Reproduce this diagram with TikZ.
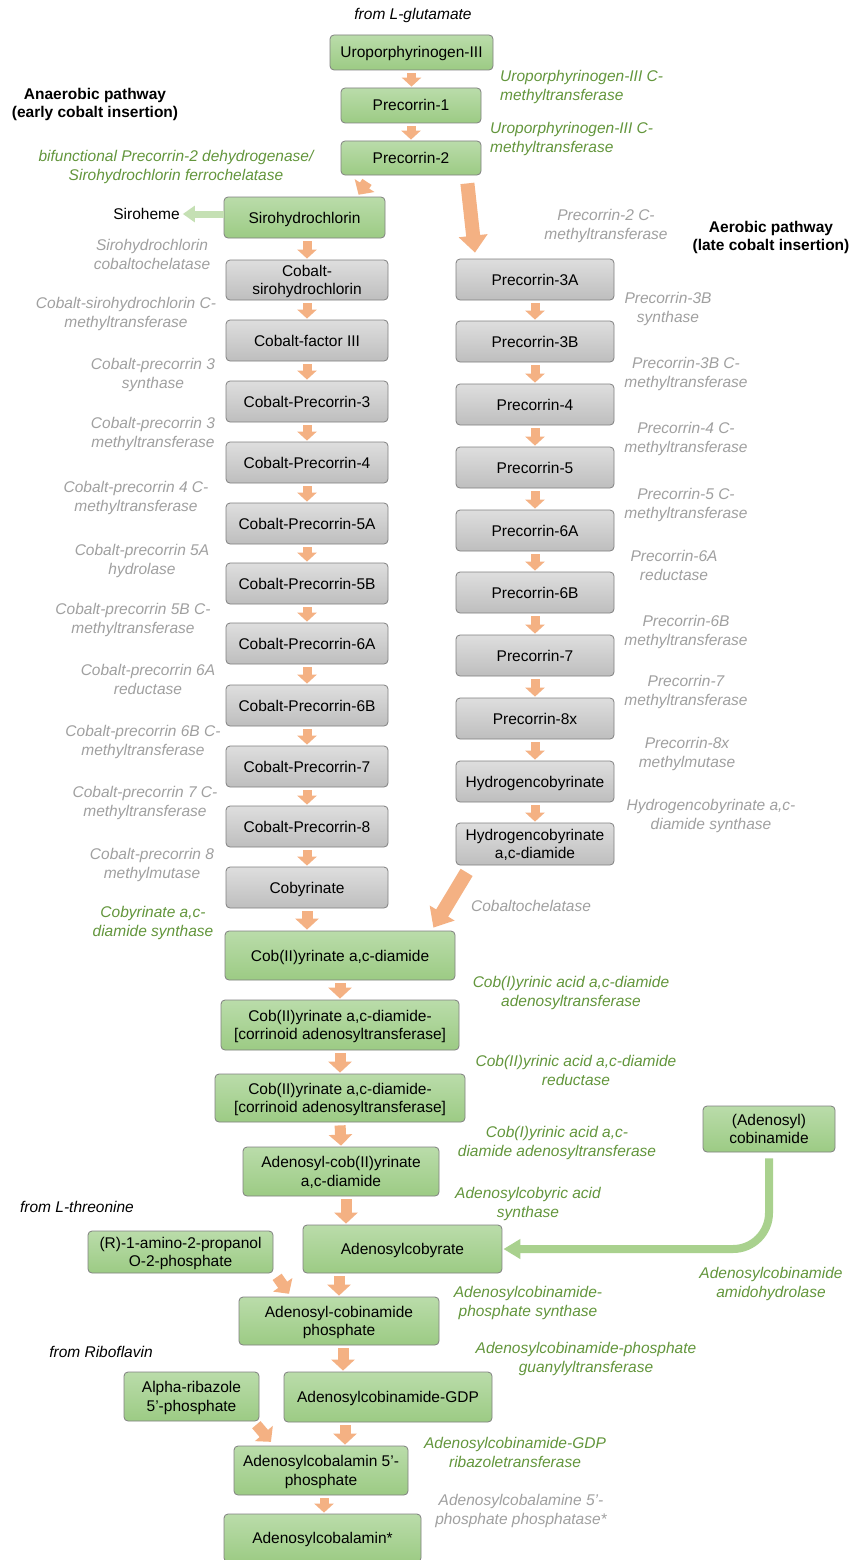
\documentclass[tikz,border=0pt]{standalone}
\usepackage{fontspec}
\setmainfont{Liberation Sans}
\usetikzlibrary{arrows.meta,calc}
\definecolor{gtxt}{RGB}{99,150,60}
\definecolor{xtxt}{RGB}{160,160,160}
\definecolor{ocol}{RGB}{244,177,131}
\definecolor{lgcol}{RGB}{169,209,142}
\definecolor{lgpale}{RGB}{197,224,180}
\definecolor{gtop}{RGB}{186,220,170}
\definecolor{gbot}{RGB}{156,203,132}
\definecolor{xtop}{RGB}{222,222,222}
\definecolor{xbot}{RGB}{190,190,190}
\definecolor{bord}{RGB}{128,128,128}
\begin{document}
\begin{tikzpicture}[x=1pt,y=-1pt,
  every node/.style={font=\fontsize{15.5}{18.5}\selectfont, inner sep=0pt, align=center, text height=15pt, text depth=4pt},
  two/.style={text height=33.5pt, text depth=4pt},
  gbox/.style={draw=bord, line width=0.8pt, rounded corners=4pt, top color=gtop, bottom color=gbot},
  xbox/.style={draw=bord, line width=0.8pt, rounded corners=4pt, top color=xtop, bottom color=xbot},
  glab/.style={text=gtxt, font=\fontsize{15.5}{19}\selectfont\itshape},
  xlab/.style={text=xtxt, font=\fontsize{15.5}{19}\selectfont\itshape},
  blab/.style={text=black, font=\fontsize{15.5}{19}\selectfont\itshape},
  hlab/.style={text=black, font=\fontsize{15.5}{18}\selectfont\bfseries},
  oarr/.style={ocol, line width=9pt, -{Triangle[width=19pt,length=9pt]}, shorten <=3pt, shorten >=1pt},
  oarrm/.style={ocol, line width=11pt, -{Triangle[width=23pt,length=11pt]}, shorten <=3pt, shorten >=1pt},
  obig/.style={ocol, line width=14pt, -{Triangle[width=28pt,length=17pt]}},
  lgarr/.style={lgpale, line width=7pt, -{Triangle[width=16pt,length=12pt]}},
]
\path[use as bounding box, fill=white] (0,0) rectangle (854,1560);

% ---------- top ----------
\node[blab] (fromglu) at (413,14) {from L-glutamate};
\node[gbox, minimum width=163pt, minimum height=35pt] (uro) at (411.5,52.5) {Uroporphyrinogen-III};
\node[gbox, minimum width=140pt, minimum height=35pt] (p1) at (411,105.5) {Precorrin-1};
\node[gbox, minimum width=140pt, minimum height=34pt] (p2) at (411,158) {Precorrin-2};
\node[glab, two, anchor=west, align=left] (e1) at (500,85.5) {Uroporphyrinogen-III C-\\methyltransferase};
\node[glab, two, anchor=west, align=left] (e2) at (490,137.5) {Uroporphyrinogen-III C-\\methyltransferase};
\node[hlab, two] (hana) at (95,103) {Anaerobic pathway\\(early cobalt insertion)};
\node[glab, two] (ebif) at (176,166) {bifunctional Precorrin-2 dehydrogenase/\\Sirohydrochlorin ferrochelatase};
\node[gbox, minimum width=161pt, minimum height=41pt] (siro) at (304.5,217.5) {Sirohydrochlorin};
\node (sirh) at (146.5,214) {Siroheme};

% ---------- anaerobic column ----------
\node[xbox, two, minimum width=162pt, minimum height=40pt] (cosiro) at (307,280) {Cobalt-\\sirohydrochlorin};
\node[xbox, minimum width=162pt, minimum height=41pt] (cof3) at (307,340.5) {Cobalt-factor III};
\node[xbox, minimum width=162pt, minimum height=41pt] (cop3) at (307,401.5) {Cobalt-Precorrin-3};
\node[xbox, minimum width=162pt, minimum height=41pt] (cop4) at (307,462.5) {Cobalt-Precorrin-4};
\node[xbox, minimum width=162pt, minimum height=41pt] (cop5a) at (307,523.5) {Cobalt-Precorrin-5A};
\node[xbox, minimum width=162pt, minimum height=41pt] (cop5b) at (307,583.5) {Cobalt-Precorrin-5B};
\node[xbox, minimum width=162pt, minimum height=41pt] (cop6a) at (307,643.5) {Cobalt-Precorrin-6A};
\node[xbox, minimum width=162pt, minimum height=41pt] (cop6b) at (307,705.5) {Cobalt-Precorrin-6B};
\node[xbox, minimum width=162pt, minimum height=41pt] (cop7) at (307,766.5) {Cobalt-Precorrin-7};
\node[xbox, minimum width=162pt, minimum height=41pt] (cop8) at (307,826.5) {Cobalt-Precorrin-8};
\node[xbox, minimum width=162pt, minimum height=41pt] (coby) at (307,887.5) {Cobyrinate};

\node[xlab, two] (l1) at (152,254.5) {Sirohydrochlorin\\cobaltochelatase};
\node[xlab, two] (l2) at (126,313) {Cobalt-sirohydrochlorin C-\\methyltransferase};
\node[xlab, two] (l3) at (153,373.5) {Cobalt-precorrin 3\\synthase};
\node[xlab, two] (l4) at (153,433) {Cobalt-precorrin 3\\methyltransferase};
\node[xlab, two] (l5) at (136,496.5) {Cobalt-precorrin 4 C-\\methyltransferase};
\node[xlab, two] (l6) at (142,559.5) {Cobalt-precorrin 5A\\hydrolase};
\node[xlab, two] (l7) at (133,618.5) {Cobalt-precorrin 5B C-\\methyltransferase};
\node[xlab, two] (l8) at (148,679.5) {Cobalt-precorrin 6A\\reductase};
\node[xlab, two] (l9) at (143,740.5) {Cobalt-precorrin 6B C-\\methyltransferase};
\node[xlab, two] (l10) at (145,801.5) {Cobalt-precorrin 7 C-\\methyltransferase};
\node[xlab, two] (l11) at (152,863.5) {Cobalt-precorrin 8\\methylmutase};
\node[glab, two] (l12) at (153,921.5) {Cobyrinate a,c-\\diamide synthase};

% ---------- aerobic column ----------
\node[hlab, two] (haer) at (771,236) {Aerobic pathway\\(late cobalt insertion)};
\node[xlab, two] (r0) at (606,224.5) {Precorrin-2 C-\\methyltransferase};
\node[xbox, minimum width=158pt, minimum height=41pt] (p3a) at (535,279.5) {Precorrin-3A};
\node[xbox, minimum width=158pt, minimum height=41pt] (p3b) at (535,341.5) {Precorrin-3B};
\node[xbox, minimum width=158pt, minimum height=41pt] (p4) at (535,404.5) {Precorrin-4};
\node[xbox, minimum width=158pt, minimum height=41pt] (p5) at (535,467.5) {Precorrin-5};
\node[xbox, minimum width=158pt, minimum height=41pt] (p6a) at (535,530.5) {Precorrin-6A};
\node[xbox, minimum width=158pt, minimum height=41pt] (p6b) at (535,592.5) {Precorrin-6B};
\node[xbox, minimum width=158pt, minimum height=41pt] (p7) at (535,655.5) {Precorrin-7};
\node[xbox, minimum width=158pt, minimum height=41pt] (p8x) at (535,718.5) {Precorrin-8x};
\node[xbox, minimum width=158pt, minimum height=41pt] (hcob) at (535,781.5) {Hydrogencobyrinate};
\node[xbox, two, minimum width=158pt, minimum height=42pt] (hcobd) at (535,844) {Hydrogencobyrinate\\a,c-diamide};

\node[xlab, two] (r1) at (668,308) {Precorrin-3B\\synthase};
\node[xlab, two] (r2) at (686,372.5) {Precorrin-3B C-\\methyltransferase};
\node[xlab, two] (r3) at (686,437.5) {Precorrin-4 C-\\methyltransferase};
\node[xlab, two] (r4) at (686,503.5) {Precorrin-5 C-\\methyltransferase};
\node[xlab, two] (r5) at (674,565.5) {Precorrin-6A\\reductase};
\node[xlab, two] (r6) at (686,630.5) {Precorrin-6B\\methyltransferase};
\node[xlab, two] (r7) at (686,690.5) {Precorrin-7\\methyltransferase};
\node[xlab, two] (r8) at (687,752.5) {Precorrin-8x\\methylmutase};
\node[xlab, two] (r9) at (711,814.5) {Hydrogencobyrinate a,c-\\diamide synthase};
\node[xlab] (r10) at (531,906) {Cobaltochelatase};

% ---------- lower part ----------
\node[gbox, minimum width=230pt, minimum height=49pt] (c2d) at (340,955.5) {Cob(II)yrinate a,c-diamide};
\node[gbox, two, minimum width=238pt, minimum height=50pt] (c2dc1) at (340,1025) {Cob(II)yrinate a,c-diamide-\\{[corrinoid adenosyltransferase]}};
\node[gbox, two, minimum width=250pt, minimum height=48pt] (c2dc2) at (340,1098) {Cob(II)yrinate a,c-diamide-\\{[corrinoid adenosyltransferase]}};
\node[gbox, two, minimum width=196pt, minimum height=49pt] (adocob) at (341,1171.5) {Adenosyl-cob(II)yrinate\\a,c-diamide};
\node[gbox, minimum width=199pt, minimum height=48pt] (adocby) at (402.5,1249) {Adenosylcobyrate};
\node[gbox, two, minimum width=185pt, minimum height=42pt] (amino) at (180.5,1252) {(R)-1-amino-2-propanol\\O-2-phosphate};
\node[gbox, two, minimum width=200pt, minimum height=48pt] (acp) at (339,1321) {Adenosyl-cobinamide\\phosphate};
\node[gbox, minimum width=208pt, minimum height=50pt] (gdp) at (388,1397) {Adenosylcobinamide-GDP};
\node[gbox, two, minimum width=135pt, minimum height=49pt] (riba) at (191.5,1396.5) {Alpha-ribazole\\5'-phosphate};
\node[gbox, two, minimum width=174pt, minimum height=49pt] (acb5p) at (321,1470.5) {Adenosylcobalamin 5'-\\phosphate};
\node[gbox, minimum width=197pt, minimum height=48pt] (acb) at (322.5,1538) {Adenosylcobalamin*};
\node[gbox, two, minimum width=132pt, minimum height=46pt] (adocbi) at (769,1129) {(Adenosyl)\\cobinamide};

\node[glab, two] (b1) at (571,991.5) {Cob(I)yrinic acid a,c-diamide\\adenosyltransferase};
\node[glab, two] (b2) at (576,1070.5) {Cob(II)yrinic acid a,c-diamide\\reductase};
\node[glab, two] (b3) at (557,1142) {Cob(I)yrinic acid a,c-\\diamide adenosyltransferase};
\node[glab, two] (b4) at (528,1203) {Adenosylcobyric acid\\synthase};
\node[glab, two] (b5) at (771,1283) {Adenosylcobinamide\\amidohydrolase};
\node[glab, two] (b6) at (528,1302) {Adenosylcobinamide-\\phosphate synthase};
\node[glab, two] (b7) at (586,1357.5) {Adenosylcobinamide-phosphate\\guanylyltransferase};
\node[glab, two] (b8) at (515,1452.5) {Adenosylcobinamide-GDP\\ribazoletransferase};
\node[xlab, two] (b9) at (521,1510) {Adenosylcobalamine 5'-\\phosphate phosphatase*};
\node[blab] (fthr) at (77,1207) {from L-threonine};
\node[blab] (frib) at (101,1352) {from Riboflavin};

% ---------- arrows ----------
\draw[oarr] (uro.south) -- (uro.south |- p1.north);
\draw[oarr] (p1.south) -- (p2.north);
\draw[oarrm] ([xshift=28pt,yshift=-4pt]p2.south west) -- ([xshift=53.5pt,yshift=1pt]siro.north);
\draw[obig] ([xshift=-14pt,yshift=-8pt]p2.south east) -- ([xshift=-60pt,yshift=6pt]p3a.north);
\draw[lgarr] (siro.west |- sirh.east) -- ([xshift=3pt]sirh.east);
\draw[oarr] (cosiro.north |- siro.south) -- (cosiro.north);
\foreach \a/\b in {cosiro/cof3,cof3/cop3,cop3/cop4,cop4/cop5a,cop5a/cop5b,cop5b/cop6a,cop6a/cop6b,cop6b/cop7,cop7/cop8,cop8/coby,
                   p3a/p3b,p3b/p4,p4/p5,p5/p6a,p6a/p6b,p6b/p7,p7/p8x,p8x/hcob,hcob/hcobd}
  \draw[oarr] (\a.south) -- (\b.north);
\draw[oarrm] (coby.south) -- (coby.south |- c2d.north);
\draw[obig] ([xshift=11pt,yshift=-7pt]hcobd.south west) -- ([xshift=-22pt,yshift=3pt]c2d.north east);
\draw[oarrm] (c2d.south) -- (c2dc1.north);
\draw[oarrm] (c2dc1.south) -- (c2dc2.north);
\draw[oarrm] (c2dc2.south) -- (adocob.north);
\draw[oarrm] ([xshift=5pt]adocob.south) -- ([xshift=5pt]adocob.south |- adocby.north);
\draw[oarrm] (acp.north |- adocby.south) -- (acp.north);
\draw[oarrm] ([xshift=2pt,yshift=-1pt]amino.south east) -- ([xshift=51pt,yshift=2pt]acp.north west);
\draw[oarrm] ([xshift=4pt]acp.south) -- ([xshift=4pt]acp.south |- gdp.north);
\draw[oarrm] ([xshift=24pt]acb5p.north |- gdp.south) -- ([xshift=24pt]acb5p.north);
\draw[oarrm] ([xshift=-5pt,yshift=-1pt]riba.south east) -- ([xshift=38pt,yshift=3pt]acb5p.north west);
\draw[oarr] ([xshift=3pt]acb5p.south) -- ([xshift=3pt]acb5p.south |- acb.north);
\draw[lgcol, line width=8pt, -{Triangle[width=19pt,length=17pt]}, rounded corners=36pt]
  ([yshift=-6pt]adocbi.south) -- (adocbi.south |- adocby.east) -- ([xshift=1pt]adocby.east);
\end{tikzpicture}
\end{document}
